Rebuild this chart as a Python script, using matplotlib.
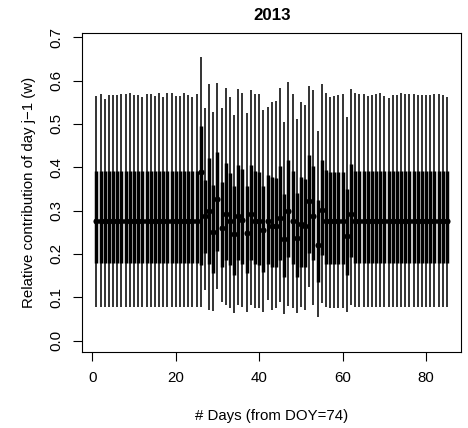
import matplotlib
matplotlib.use("Agg")
import matplotlib.pyplot as plt
import numpy as np

plt.rcParams['font.family'] = ['Liberation Sans', 'DejaVu Sans']

title = "2013"
xlabel = "# Days (from DOY=74)"
ylabel = "Relative contribution of day j\u22121 (w)"

days = list(range(1, 86))

# median (point)
med = [0.277]*25 + [
    0.390, 0.288, 0.300, 0.250, 0.327, 0.259, 0.292, 0.275, 0.246, 0.288,
    0.278, 0.249, 0.292, 0.276, 0.275, 0.255, 0.277, 0.265, 0.265, 0.284,
    0.234, 0.298, 0.277, 0.236, 0.269, 0.265, 0.323, 0.288, 0.221, 0.301,
    0.276, 0.275, 0.275, 0.275, 0.275, 0.242, 0.292] + [0.277]*23

# thick bar low / high
q25 = [0.179]*25 + [
    0.175, 0.202, 0.178, 0.155, 0.206, 0.171, 0.186, 0.175, 0.152, 0.186,
    0.178, 0.155, 0.186, 0.177, 0.175, 0.159, 0.176, 0.169, 0.169, 0.186,
    0.148, 0.194, 0.177, 0.148, 0.169, 0.169, 0.202, 0.186, 0.136, 0.198,
    0.178, 0.178, 0.178, 0.178, 0.178, 0.152, 0.192] + [0.179]*23

q75 = [0.391]*25 + [
    0.495, 0.370, 0.421, 0.359, 0.436, 0.367, 0.409, 0.386, 0.356, 0.405,
    0.397, 0.356, 0.405, 0.392, 0.388, 0.356, 0.382, 0.378, 0.376, 0.402,
    0.338, 0.417, 0.392, 0.340, 0.378, 0.374, 0.428, 0.403, 0.325, 0.417,
    0.393, 0.389, 0.389, 0.389, 0.390, 0.349, 0.408] + [0.391]*23

# thin whisker low / high
lo = [0.077]*25 + [
    0.078, 0.117, 0.070, 0.069, 0.120, 0.090, 0.082, 0.075, 0.065, 0.082,
    0.078, 0.067, 0.082, 0.075, 0.075, 0.067, 0.094, 0.071, 0.076, 0.090,
    0.061, 0.080, 0.076, 0.063, 0.078, 0.070, 0.123, 0.082, 0.055, 0.086,
    0.078, 0.076, 0.076, 0.076, 0.076, 0.067, 0.082] + [0.077]*23

hi = [0.565, 0.569, 0.558, 0.567, 0.566, 0.566, 0.568, 0.570, 0.571, 0.567,
      0.566, 0.561, 0.568, 0.568, 0.565, 0.571, 0.562, 0.572, 0.571, 0.565,
      0.564, 0.572, 0.566, 0.562, 0.568] + [
    0.654, 0.536, 0.591, 0.528, 0.595, 0.536, 0.582, 0.562, 0.521, 0.581,
    0.571, 0.525, 0.578, 0.569, 0.568, 0.532, 0.538, 0.551, 0.552, 0.582,
    0.504, 0.596, 0.569, 0.511, 0.550, 0.543, 0.588, 0.579, 0.484, 0.593,
    0.571, 0.562, 0.565, 0.567, 0.568, 0.517, 0.580] + [
    0.571, 0.570, 0.570, 0.564, 0.566, 0.569, 0.571, 0.565, 0.559, 0.567,
    0.567, 0.571, 0.569, 0.570, 0.568, 0.567, 0.566, 0.567, 0.566, 0.569,
    0.569, 0.566, 0.563]

W, H = 468, 428
fig = plt.figure(figsize=(W/100, H/100), dpi=100)
left, right, top, bottom = 82.4, 461.0, 33.3, 351.7
ax = fig.add_axes([left/W, 1 - bottom/H, (right-left)/W, (bottom-top)/H])

ax.vlines(days, lo, hi, color='#111111', linewidth=1.2)
ax.vlines(days, q25, q75, color='black', linewidth=2.5)
ax.plot(days, med, 'o', color='black', markersize=4.4, markeredgewidth=0)

ax.set_xlim(-2.36, 88.36)
ax.set_ylim(-0.0254, 0.709)
ax.set_xticks([0, 20, 40, 60, 80])
ax.set_yticks([0.0, 0.1, 0.2, 0.3, 0.4, 0.5, 0.6, 0.7])
ax.set_yticklabels(["0.0", "0.1", "0.2", "0.3", "0.4", "0.5", "0.6", "0.7"],
                   rotation=90, va='center')
ax.tick_params(axis='both', direction='out', length=6.8, width=0.8,
               labelsize=10.8, color='black')
ax.tick_params(axis='x', pad=7.4)
ax.tick_params(axis='y', pad=6.6)
for s in ax.spines.values():
    s.set_linewidth(0.8)

fig.text((left+right)/2/W, 1 - 15/H, title, ha='center', va='center',
         fontsize=12.2, fontweight='bold')
fig.text((left+right)/2/W, 1 - 416/H, xlabel, ha='center', va='center',
         fontsize=10.8)
fig.text(29/W, 1 - (top+bottom)/2/H, ylabel, ha='center', va='center',
         rotation=90, fontsize=10.8)

fig.savefig("out.png", dpi=100)
